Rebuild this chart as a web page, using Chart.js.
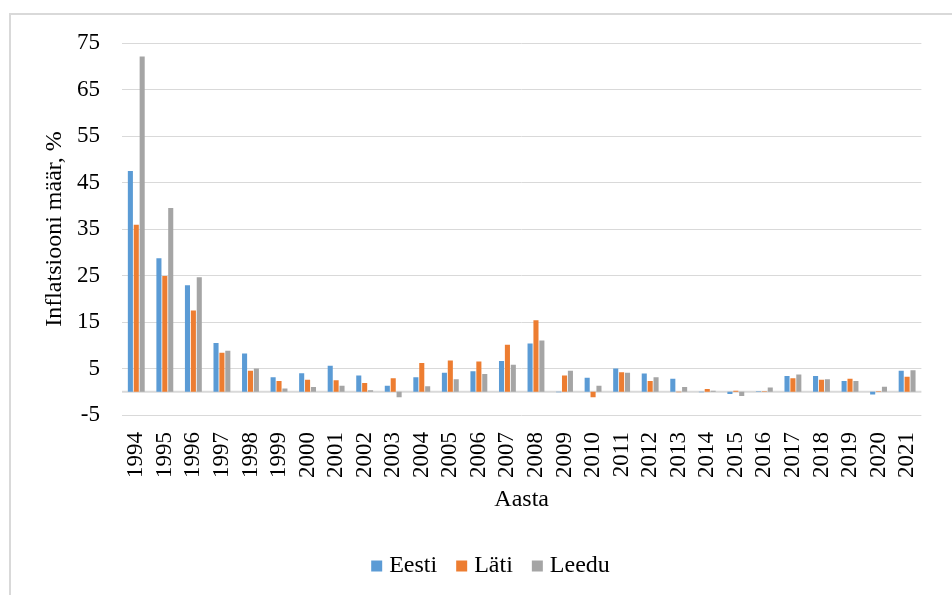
<!DOCTYPE html>
<html>
<head>
<meta charset="utf-8">
<script src="https://cdn.jsdelivr.net/npm/chart.js@4.4.1/dist/chart.umd.min.js"></script>
<style>
  html, body { margin: 0; padding: 0; background: #fff; }
  #wrap { position: relative; width: 952px; height: 595px; overflow: hidden; }
  #frame { position: absolute; left: 9px; top: 13px; width: 960px; height: 600px; border: 2px solid #d9d9d9; box-sizing: border-box; }
  canvas { position: absolute; left: 0; top: 0; }
</style>
</head>
<body>
<div id="wrap">
  <div id="frame"></div>
  <canvas id="chart" width="952" height="595"></canvas>
</div>
<script>
const years = ["1994", "1995", "1996", "1997", "1998", "1999", "2000", "2001", "2002", "2003",
  "2004", "2005", "2006", "2007", "2008", "2009", "2010", "2011", "2012", "2013",
  "2014", "2015", "2016", "2017", "2018", "2019", "2020", "2021"];

const eesti = [47.5, 28.7, 22.9, 10.5, 8.2, 3.1, 4.0, 5.6, 3.5, 1.3,
  3.1, 4.1, 4.4, 6.6, 10.4, -0.1, 3.0, 5.0, 3.9, 2.8,
  -0.1, -0.5, 0.1, 3.4, 3.4, 2.3, -0.6, 4.5];
const lati = [35.9, 24.9, 17.5, 8.4, 4.5, 2.3, 2.6, 2.5, 1.9, 2.9,
  6.2, 6.7, 6.5, 10.1, 15.4, 3.5, -1.2, 4.2, 2.3, -0.1,
  0.6, 0.2, 0.1, 2.9, 2.6, 2.8, 0.1, 3.2];
const leedu = [72.1, 39.5, 24.6, 8.8, 5.0, 0.7, 1.0, 1.3, 0.3, -1.2,
  1.2, 2.7, 3.8, 5.8, 11.0, 4.5, 1.3, 4.1, 3.1, 1.0,
  0.2, -0.9, 0.9, 3.7, 2.7, 2.3, 1.1, 4.6];

const yTicks = [-5, 5, 15, 25, 35, 45, 55, 65, 75];

const serif = "'Liberation Serif', 'Times New Roman', serif";
const gridColor = "#d9d9d9";

// line at zero (Excel draws the category axis there)
const zeroLine = {
  id: "zeroLine",
  beforeDatasetsDraw(chart) {
    const { ctx, chartArea, scales } = chart;
    const y = scales.y.getPixelForValue(0);
    ctx.save();
    ctx.strokeStyle = gridColor;
    ctx.lineWidth = 2;
    ctx.beginPath();
    ctx.moveTo(chartArea.left, y);
    ctx.lineTo(chartArea.right, y);
    ctx.stroke();
    ctx.restore();
  }
};

// legend sits a bit right of the canvas middle in the original
const legendShift = {
  id: "legendShift",
  afterLayout(chart) {
    chart.legend.left += 14;
    chart.legend.right += 14;
  }
};

new Chart(document.getElementById("chart"), {
  type: "bar",
  data: {
    labels: years,
    datasets: [
      { label: "Eesti", data: eesti, backgroundColor: "#5b9bd5" },
      { label: "Läti", data: lati, backgroundColor: "#ed7d31" },
      { label: "Leedu", data: leedu, backgroundColor: "#a5a5a5" }
    ]
  },
  options: {
    responsive: false,
    animation: false,
    devicePixelRatio: 1,
    categoryPercentage: 0.62,
    barPercentage: 0.86,
    layout: { padding: { left: 22, right: 16, top: 43, bottom: 7 } },
    plugins: {
      tooltip: { enabled: false },
      legend: {
        position: "bottom",
        labels: {
          color: "#000",
          font: { family: serif, size: 24 },
          usePointStyle: true,
          pointStyle: "rect",
          boxWidth: 1,
          boxHeight: 11,
          padding: 24
        }
      }
    },
    scales: {
      x: {
        grid: { display: false, drawTicks: false },
        border: { display: false },
        ticks: {
          color: "#000",
          font: { family: serif, size: 23 },
          minRotation: 90,
          maxRotation: 90,
          autoSkip: false,
          padding: 17
        },
        title: {
          display: true,
          text: "Aasta",
          color: "#000",
          font: { family: serif, size: 24 },
          padding: { top: 0, bottom: 16 }
        },
        afterFit(scale) { scale.height = 115; }
      },
      y: {
        min: -5,
        max: 75,
        afterBuildTicks(scale) {
          scale.ticks = yTicks.map(v => ({ value: v }));
        },
        grid: { color: gridColor, lineWidth: 1, drawTicks: false },
        border: { display: false },
        ticks: {
          color: "#000",
          font: { family: serif, size: 23 },
          padding: 22
        },
        title: {
          display: true,
          text: "Inflatsiooni määr, %",
          color: "#000",
          font: { family: serif, size: 24 },
          padding: { top: 18, bottom: 0 }
        },
        afterFit(scale) { scale.width = 100; }
      }
    }
  },
  plugins: [zeroLine, legendShift]
});
</script>
</body>
</html>
